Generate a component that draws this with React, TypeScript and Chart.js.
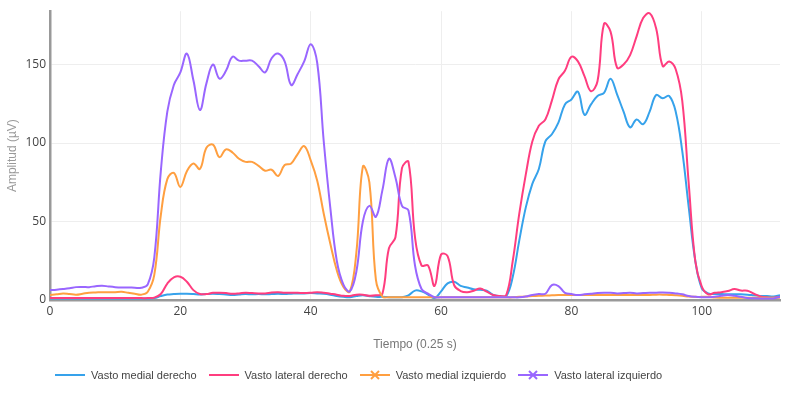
import React, { useRef, useEffect } from "react";
import { Chart, registerables } from "chart.js";

Chart.register(...registerables);

// tiempo en pasos de 0.25 s (0..112)
const tiempo: number[] = Array.from({ length: 113 }, (_, i) => i);

const medialDerecho: number[] = [
  1, 1, 1, 1, 1, 1, 1, 1, 1, 1,
  1, 1, 1, 1, 1, 1, 1.2, 2.5, 3.5, 3.8,
  4, 4, 3.8, 3.5, 3.8, 4, 3.8, 3.5, 3.2, 3.5,
  3.8, 3.6, 3.8, 3.6, 3.8, 4, 3.8, 4, 4.2, 4.2,
  4.4, 4.2, 4, 3.4, 2.5, 2, 1.8, 2.5, 3, 2.4,
  2, 2, 1.8, 1.8, 1.8, 3, 6, 5.5, 3.5, 1.2,
  5.5, 10.6, 11.6, 9, 8, 6.8, 6.5, 6, 3.2, 2.5,
  2.5, 14.8, 38, 59, 74, 83.5, 101, 105.6, 113, 124.6,
  127.8, 132.7, 118, 124.6, 130, 132, 141, 131, 120, 110,
  115, 112, 120, 130.6, 128.5, 130, 120, 95, 59, 25,
  7.4, 4.2, 3.8, 3.8, 3.6, 3.6, 3.6, 3.4, 3, 2.6,
  2.5, 2.2, 3,
];

const lateralDerecho: number[] = [
  1.2, 1.2, 1.2, 1.2, 1.2, 1.2, 1.2, 1.2, 1.2, 1.2,
  1.2, 1.2, 1.2, 1.2, 1.2, 1.2, 1.5, 3.8, 10.5, 14.4,
  14.8, 11.6, 6.3, 3.8, 3.8, 4.6, 4.6, 4.4, 4, 4.2,
  4.6, 4.4, 4.2, 4.2, 4.8, 5, 4.6, 4.6, 4.6, 4.4,
  4.6, 5, 4.6, 4, 3.4, 2.7, 2.6, 3.4, 3.4, 2.7,
  3, 4, 33, 40, 84, 88, 40, 22, 22, 9,
  29, 28, 9.5, 5.7, 4.9, 5.9, 7.4, 5.3, 3.2, 2.5,
  3.2, 25, 55, 80, 101, 111, 115, 127, 140.5, 146,
  155, 152, 142.6, 133, 139.4, 176, 171, 148, 150, 156,
  168, 179.6, 182.7, 173, 149, 152, 147, 127, 74, 25,
  8.5, 3.6, 4.6, 5, 5.7, 7, 6, 5.9, 4, 2.3,
  1.7, 1.5, 2,
];

const medialIzquierdo: number[] = [
  3.2, 3.6, 4.2, 3.8, 3.4, 4, 4.6, 4.8, 5, 4.9,
  5, 5.2, 4.6, 4, 3.4, 5.3, 16, 54, 77, 81,
  72, 82, 87, 83.5, 97, 99, 91, 96, 94, 90,
  88, 88, 85.5, 82.4, 83, 79, 86, 87, 93, 98,
  89, 76, 55, 36, 19, 8.5, 5.3, 30, 85, 75,
  13, 2.2, 1.8, 1.8, 1.8, 1.8, 1.8, 1.8, 1.8, 1.8,
  1.8, 1.8, 1.8, 1.8, 1.8, 1.8, 1.8, 1.8, 1.8, 1.8,
  1.7, 1.7, 2, 2.2, 2.5, 2.7, 2.8, 3, 3.2, 3.2,
  3.2, 3.2, 3.2, 3.2, 3.2, 3.2, 3.2, 3.2, 3.2, 3.2,
  3.2, 3.2, 3.2, 3.4, 3.4, 3.2, 3, 2.7, 2.2, 2,
  2, 2, 1.6, 1.5, 1.5, 1.5, 1.5, 1.5, 1.5, 1.5,
  1.5, 1.5, 1.5,
];

const lateralIzquierdo: number[] = [
  6.3, 6.6, 7, 7.5, 8.2, 8.3, 8.2, 8.8, 9.1, 8.6,
  8.2, 8, 8, 7.8, 7.8, 10, 27, 82, 120, 137,
  145, 157, 140, 121, 138, 150, 141, 146, 155, 152.5,
  152.5, 152.5, 149, 145, 154, 157, 152, 137, 144, 152,
  163, 151, 101, 59, 25, 10, 5.5, 18, 50, 60,
  53, 70, 90, 78, 60, 57, 22, 7, 4, 1.8,
  1.7, 1.7, 1.7, 1.7, 1.7, 1.7, 1.7, 1.7, 1.7, 1.7,
  1.7, 1.7, 1.7, 2.2, 3.2, 3.8, 4, 9.5, 8.9, 4.6,
  3.8, 3.2, 3.6, 4, 4.4, 4.6, 4.6, 4.2, 4.4, 4.6,
  4.2, 4.4, 4.6, 4.6, 4.8, 4.6, 4.2, 3.6, 2.5, 2,
  1.8, 1.8, 2, 2.7, 3.2, 2.7, 2, 1.3, 1.1, 1,
  1, 1, 2,
];

const series = [
  { label: "Vasto medial derecho", data: medialDerecho, color: "#36a2eb", marker: false },
  { label: "Vasto lateral derecho", data: lateralDerecho, color: "#ff3d7f", marker: false },
  { label: "Vasto medial izquierdo", data: medialIzquierdo, color: "#ff9f40", marker: true },
  { label: "Vasto lateral izquierdo", data: lateralIzquierdo, color: "#9966ff", marker: true },
];

const LegendItem: React.FC<{ label: string; color: string; marker: boolean }> = ({ label, color, marker }) => (
  <div style={{ display: "flex", alignItems: "center", marginRight: 12 }}>
    <svg width={30} height={12} style={{ marginRight: 6 }}>
      <line x1={0} y1={6} x2={30} y2={6} stroke={color} strokeWidth={2} />
      {marker && (
        <g stroke={color} strokeWidth={2}>
          <line x1={11} y1={2} x2={19} y2={10} />
          <line x1={19} y1={2} x2={11} y2={10} />
        </g>
      )}
    </svg>
    <span>{label}</span>
  </div>
);

const App: React.FC = () => {
  const chartRef = useRef<HTMLCanvasElement | null>(null);

  useEffect(() => {
    if (!chartRef.current) return;
    const chart = new Chart(chartRef.current, {
      type: "line",
      data: {
        datasets: series.map((s, i) => ({
          label: s.label,
          data: s.data.map((v, j) => ({ x: tiempo[j], y: v })),
          borderColor: s.color,
          backgroundColor: s.color,
          borderWidth: 2,
          pointRadius: 0,
          tension: 0.4,
          fill: false,
          order: series.length - 1 - i,
        })),
      },
      options: {
        responsive: true,
        maintainAspectRatio: false,
        animation: false,
        layout: { padding: { top: 10, right: 20, bottom: 40, left: 0 } },
        plugins: {
          legend: { display: false },
          tooltip: { enabled: false },
        },
        scales: {
          x: {
            type: "linear",
            min: 0,
            max: 112,
            afterBuildTicks: (scale: any) => {
              scale.ticks = scale.ticks.filter((t: any) => t.value % 20 === 0);
            },
            afterFit: (scale: any) => {
              scale.height = 60;
            },
            ticks: {
              stepSize: 20,
              padding: 4,
              color: "#444",
              font: { family: "'Open Sans', sans-serif", size: 12 },
            },
            grid: { color: "#eeeeee", drawTicks: false },
            border: { color: "#999", width: 2.5 },
            title: {
              display: true,
              text: "Tiempo (0.25 s)",
              color: "#777",
              font: { family: "Arial, 'Liberation Sans', sans-serif", size: 12 },
              padding: { top: 0, bottom: 8 },
            },
          },
          y: {
            min: 0,
            max: 184,
            afterBuildTicks: (scale: any) => {
              scale.ticks = scale.ticks.filter((t: any) => t.value % 50 === 0);
            },
            afterFit: (scale: any) => {
              scale.width = 50;
            },
            ticks: {
              stepSize: 50,
              padding: 4,
              color: "#444",
              font: { family: "'Open Sans', sans-serif", size: 12 },
            },
            grid: { color: "#eeeeee", drawTicks: false },
            border: { color: "#999", width: 2.5 },
            title: {
              display: true,
              text: "Amplitud (µV)",
              color: "#999",
              font: { family: "Arial, 'Liberation Sans', sans-serif", size: 12 },
              padding: { top: 5, bottom: 0 },
            },
          },
        },
      },
    });

    return () => {
      chart.destroy();
    };
  }, []);

  return (
    <div style={{ position: "fixed", left: 0, top: 0, width: 800, height: 400, background: "#fff" }}>
      <div style={{ position: "absolute", left: 0, top: 0, width: 800, height: 400 }}>
        <canvas ref={chartRef} />
      </div>
      <div
        style={{
          position: "absolute",
          left: 55,
          top: 369,
          display: "flex",
          fontFamily: "Arial, 'Liberation Sans', sans-serif",
          fontSize: 11,
          color: "#444",
          whiteSpace: "nowrap",
        }}
      >
        {series.map((s) => (
          <LegendItem key={s.label} label={s.label} color={s.color} marker={s.marker} />
        ))}
      </div>
    </div>
  );
};

export default App;
